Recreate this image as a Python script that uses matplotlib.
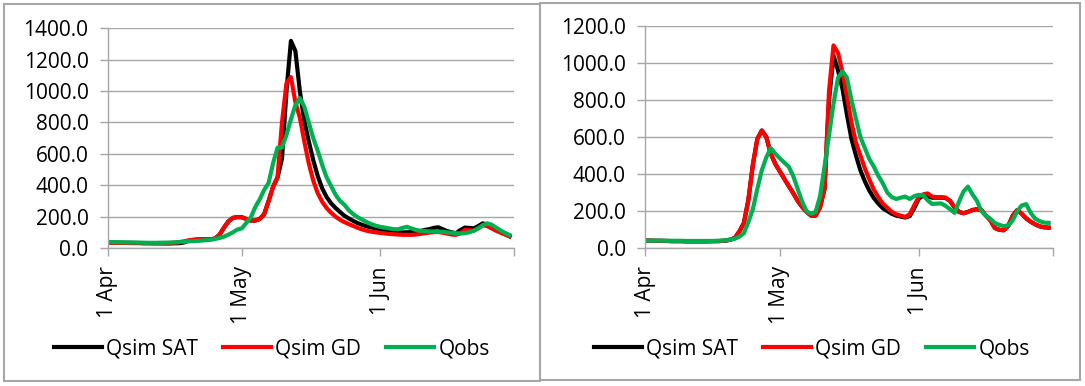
from __future__ import annotations

import matplotlib

matplotlib.use("Agg")

import matplotlib.pyplot as plt
import numpy as np
import pandas as pd
from matplotlib.patches import Rectangle

# daily discharge, 1 Apr .. 30 Jun (91 days)
left_sat = [
    35, 34, 34, 33, 33, 33, 32, 32, 31, 31, 30, 30, 30, 29, 29, 30, 31, 35,
    46, 51, 54, 55, 55, 56, 60, 85, 130, 170, 192, 197, 196, 185, 175, 175,
    185, 215, 300, 390, 450, 570, 1000, 1320, 1255, 1000, 810, 680, 560, 460,
    380, 325, 285, 255, 230, 205, 188, 172, 158, 147, 138, 131, 125, 119, 113,
    108, 104, 100, 99, 100, 102, 104, 108, 115, 120, 128, 132, 120, 108, 100,
    94, 115, 130, 128, 125, 140, 157, 150, 132, 115, 102, 88, 75,
]
left_gd = [
    33, 33, 32, 32, 32, 31, 31, 31, 30, 30, 30, 30, 30, 31, 32, 34, 37, 42,
    48, 52, 54, 55, 55, 56, 60, 85, 130, 170, 192, 197, 196, 185, 175, 175,
    185, 215, 300, 390, 450, 800, 1050, 1089, 930, 830, 680, 540, 430, 350,
    295, 255, 225, 200, 180, 165, 152, 140, 128, 118, 110, 104, 100, 96, 93,
    90, 88, 86, 84, 84, 84, 86, 90, 94, 98, 101, 102, 98, 92, 86, 84, 95, 115,
    113, 111, 125, 145, 140, 125, 110, 98, 86, 75,
]
left_obs = [
    38, 37, 37, 36, 36, 35, 35, 34, 34, 33, 33, 33, 34, 34, 35, 36, 38, 40,
    42, 44, 45, 47, 50, 53, 58, 64, 72, 85, 100, 118, 125, 160, 195, 260, 310,
    370, 415, 540, 640, 640, 720, 820, 910, 955, 900, 800, 700, 620, 530, 450,
    395, 340, 300, 275, 240, 215, 195, 180, 165, 152, 142, 135, 130, 125, 120,
    119, 128, 135, 125, 115, 110, 108, 106, 105, 104, 104, 100, 97, 94, 92, 95,
    100, 110, 125, 145, 157, 148, 130, 112, 96, 83,
]

right_sat = [
    40, 40, 39, 39, 38, 38, 37, 37, 37, 36, 36, 36, 36, 36, 36, 37, 37, 38,
    40, 45, 55, 90, 135, 260, 450, 590, 635, 600, 510, 455, 415, 375, 335,
    297, 255, 222, 195, 175, 175, 220, 320, 800, 1040, 960, 860, 720, 590,
    500, 420, 360, 310, 270, 240, 215, 200, 185, 175, 170, 165, 172, 215, 265,
    285, 280, 272, 272, 272, 270, 255, 220, 195, 188, 195, 205, 210, 205, 175,
    150, 108, 98, 96, 120, 175, 205, 185, 160, 142, 128, 117, 112, 110,
]
right_gd = [
    40, 40, 39, 39, 38, 38, 37, 37, 37, 36, 36, 36, 36, 36, 36, 37, 37, 38,
    40, 45, 55, 90, 135, 260, 450, 590, 635, 600, 510, 455, 415, 375, 335,
    297, 255, 222, 195, 175, 175, 220, 320, 850, 1095, 1055, 950, 820, 680,
    570, 500, 430, 370, 315, 275, 240, 218, 195, 182, 175, 168, 182, 230, 275,
    290, 295, 278, 275, 275, 273, 255, 220, 195, 188, 195, 205, 210, 205, 175,
    150, 108, 98, 96, 120, 175, 205, 185, 160, 142, 128, 117, 112, 110,
]
right_obs = [
    40, 40, 40, 40, 40, 39, 39, 39, 39, 38, 38, 38, 38, 38, 38, 38, 39, 40,
    42, 46, 50, 62, 80, 140, 210, 320, 420, 490, 540, 510, 485, 462, 440, 390,
    320, 250, 198, 185, 195, 280, 440, 610, 780, 920, 955, 920, 800, 700, 600,
    540, 480, 440, 390, 350, 300, 275, 265, 272, 278, 265, 280, 287, 285, 258,
    238, 240, 241, 228, 210, 190, 250, 305, 332, 290, 255, 200, 175, 158, 135,
    125, 118, 123, 150, 200, 230, 237, 190, 158, 145, 137, 136,
]

series_names = ["Qsim SAT", "Qsim GD", "Qobs"]
series_colors = ["#000000", "#ff0000", "#00b050"]
tick_labels = ["1 Apr", "1 May", "1 Jun", ""]
left_ymax = 1400
right_ymax = 1200

FONT = ["Open Sans", "DejaVu Sans"]
FS = 15
GRID = "#a6a6a6"
W, H = 1085, 386


def draw_panel(fig, rect, values, ymax, legend_x):
    """One Excel-style hydrograph panel with its own legend."""
    ax = fig.add_axes(rect)
    dates = pd.date_range("2000-04-01", periods=len(values[0]), freq="D")
    for vals, name, color in zip(values, series_names, series_colors):
        ax.plot(dates, vals, color=color, lw=3.0, label=name,
                solid_joinstyle="round")

    months = pd.date_range("2000-04-01", "2000-07-01", freq="MS")
    ax.set_xlim(months[0], months[-1])
    ax.set_xticks(months)
    ax.set_xticklabels(tick_labels, rotation=90, va="top", ha="center")

    ax.set_ylim(0, ymax)
    ax.set_yticks(np.arange(0, ymax + 1, 200))
    ax.yaxis.set_major_formatter(matplotlib.ticker.FormatStrFormatter("%.1f"))
    ax.grid(axis="y", color=GRID, lw=1.0)
    ax.set_axisbelow(True)

    for side in ("top", "right"):
        ax.spines[side].set_visible(False)
    for side in ("left", "bottom"):
        ax.spines[side].set_color(GRID)
        ax.spines[side].set_linewidth(1.0)
    ax.tick_params(axis="both", direction="out", length=6, width=1.0,
                   color=GRID, labelsize=FS, labelcolor="#000000")
    ax.tick_params(axis="y", pad=8)
    ax.tick_params(axis="x", pad=7)
    for lab in ax.get_xticklabels() + ax.get_yticklabels():
        lab.set_family(FONT)

    ax.legend(loc="center", bbox_to_anchor=(legend_x, 1 - 349 / H),
              bbox_transform=fig.transFigure, ncol=3, frameon=False,
              handlelength=2.3, handletextpad=0.2, columnspacing=1.2,
              prop={"family": FONT, "size": FS})
    return ax


fig = plt.figure(figsize=(W / 100, H / 100), dpi=100)

fig.add_artist(Rectangle((4 / W, 1 - 381 / H), 536 / W, 377 / H,
                         transform=fig.transFigure, fill=False,
                         ec=GRID, lw=1.5))
fig.add_artist(Rectangle((540 / W, 1 - 380 / H), 540 / W, 377 / H,
                         transform=fig.transFigure, fill=False,
                         ec=GRID, lw=1.5))

draw_panel(fig, [108 / W, 1 - 248 / H, 406 / W, 219.7 / H],
           [left_sat, left_gd, left_obs], left_ymax, 272 / W)
draw_panel(fig, [645.3 / W, 1 - 248 / H, 407.8 / W, 222 / H],
           [right_sat, right_gd, right_obs], right_ymax, 812 / W)

fig.savefig("out.png", dpi=100)
